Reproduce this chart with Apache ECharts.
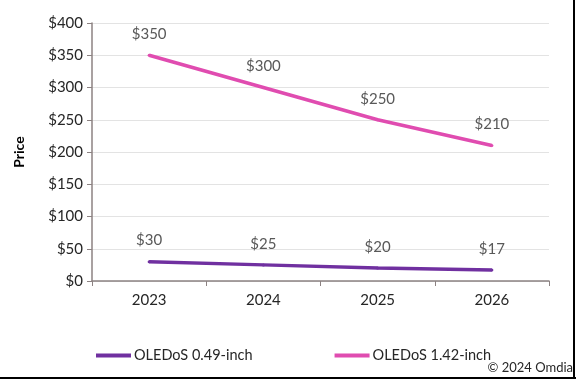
<!DOCTYPE html>
<html><head><meta charset="utf-8">
<script src="https://cdn.jsdelivr.net/npm/echarts@6/dist/echarts.min.js"></script>
<style>html,body{margin:0;padding:0;background:#fff}#c{width:576px;height:380px}</style>
</head><body><div id="c"></div>
<script>
const categories = ['2023','2024','2025','2026'];
const oled049 = [30,25,20,17];
const oled142 = [350,300,250,210];
const seriesNames = ['OLEDoS 0.49-inch','OLEDoS 1.42-inch'];
const yTicks = [0,400,50];
const FONT = 'Lato';
const chart = echarts.init(document.getElementById('c'), null, {renderer:'canvas'});
const lbl = {show:true, position:'top', distance:12, color:'#595959', fontFamily:FONT, fontSize:15, formatter: p => '$' + p.value};
chart.setOption({
  animation:false,
  textStyle:{fontFamily:FONT},
  grid:{left:92, right:27, top:23, bottom:99, containLabel:false},
  legend:{
    data:seriesNames, left:91, top:343, itemWidth:35, itemHeight:4, itemGap:82, icon:'rect',
    textStyle:{fontFamily:FONT, fontSize:14.5, color:'#262626', padding:[0,0,0,-2]}
  },
  xAxis:{
    type:'category', data:categories, boundaryGap:true,
    axisLine:{lineStyle:{color:'#8c8282', width:1.5}},
    axisTick:{show:true, length:5, lineStyle:{color:'#8c8282'}},
    axisLabel:{color:'#262626', fontFamily:FONT, fontSize:15, margin:12}
  },
  yAxis:{
    type:'value', min:yTicks[0], max:yTicks[1], interval:yTicks[2],
    name:'Price', nameLocation:'middle', nameGap:66, nameRotate:90,
    nameTextStyle:{fontFamily:FONT, fontSize:14, fontWeight:'bold', color:'#000'},
    axisLine:{show:true, lineStyle:{color:'#8c8282', width:1.5}},
    axisTick:{show:true, length:5, lineStyle:{color:'#8c8282'}},
    splitLine:{lineStyle:{color:'#e3e3e3'}},
    axisLabel:{color:'#262626', fontFamily:FONT, fontSize:15, margin:9, formatter: v => '$' + v}
  },
  series:[
    {name:seriesNames[0], type:'line', data:oled049, symbol:'circle', symbolSize:3, showSymbol:true, color:'#7030a0',
     lineStyle:{width:3.5, color:'#7030a0'}, label:lbl},
    {name:seriesNames[1], type:'line', data:oled142, symbol:'circle', symbolSize:3, showSymbol:true, color:'#e04cb0',
     lineStyle:{width:3.5, color:'#e04cb0'}, label:lbl}
  ],
  graphic:[
    {type:'text', right:3, top:361, style:{text:'© 2024 Omdia', fontFamily:FONT, fontSize:13, fill:'#262626'}},
    {type:'line', shape:{x1:574, y1:0, x2:574, y2:379}, style:{stroke:'#000', lineWidth:2}},
    {type:'line', shape:{x1:0, y1:378, x2:576, y2:378}, style:{stroke:'#000', lineWidth:2}}
  ]
});
</script></body></html>
